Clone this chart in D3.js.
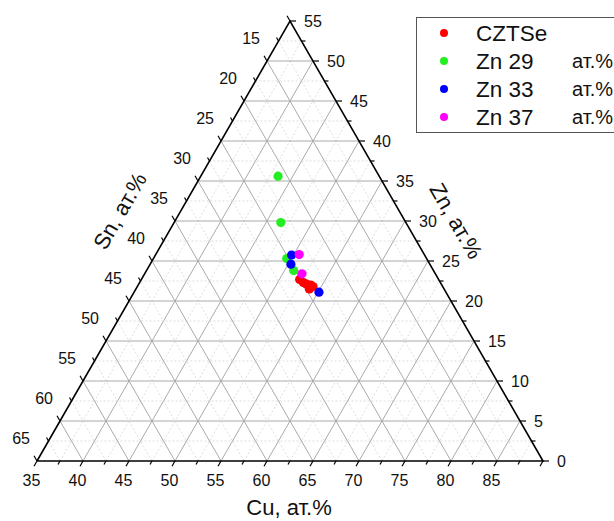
<!DOCTYPE html>
<html><head><meta charset="utf-8">
<script src="https://cdn.jsdelivr.net/npm/d3@7"></script>
<style>body{margin:0;background:#fff;overflow:hidden}svg{display:block;font-family:"Liberation Sans",Arial,sans-serif}</style>
</head><body>
<svg id="c" width="614" height="521"></svg>
<script>
// ---- data (Cu, Zn in at.%; Sn = 100 - Cu - Zn) ----
const seriesNames = ["CZTSe", "Zn 29", "Zn 33", "Zn 37"];
const seriesUnits = ["", "ат.%", "ат.%", "ат.%"];
const seriesColors = ["#ff0000", "#22ee22", "#0000ff", "#ff00ff"];
const cztseCu = [52.2, 52.8, 53.25, 53.75, 53.85, 54.1];
const cztseZn = [22.7, 22.3, 22.1, 22.0, 21.5, 21.8];
const zn29Cu = [43.4, 46.6, 49.5, 51.0];
const zn29Zn = [35.6, 29.8, 25.3, 23.8];
const zn33Cu = [49.8, 50.3, 55.1];
const zn33Zn = [25.75, 24.6, 21.1];
const zn37Cu = [50.6, 52.1];
const zn37Zn = [25.8, 23.4];
const cuTicks = [35, 40, 45, 50, 55, 60, 65, 70, 75, 80, 85];
const znTicks = [0, 5, 10, 15, 20, 25, 30, 35, 40, 45, 50, 55];
const snTicks = [15, 20, 25, 30, 35, 40, 45, 50, 55, 60, 65];
const axisTitles = ["Cu, ат.%", "Zn, ат.%", "Sn, ат.%"];

const svg = d3.select("#c");
const Lc = [37, 461], Rc = [543, 461], Ac = [290, 21];
const cuS = d3.scaleLinear().domain([35, 90]).range([0, 1]);
const znS = d3.scaleLinear().domain([0, 55]).range([0, 1]);
const snS = d3.scaleLinear().domain([10, 65]).range([0, 1]);
function proj(cu, zn) {
  const sn = 100 - cu - zn;
  const a = cuS(cu), b = znS(zn), c = snS(sn);
  return [c * Lc[0] + a * Rc[0] + b * Ac[0], c * Lc[1] + a * Rc[1] + b * Ac[1]];
}
const minorVals = d3.range(2.5, 55, 2.5);
const g = svg.append("g");
// grid
minorVals.forEach(v => {
  const major = Math.abs(v % 5) < 1e-6;
  const st = major ? {c: "#a0a0a0", w: 0.9, d: null} : {c: "#d4d4d4", w: 0.8, d: "2,2"};
  const lines = [];
  lines.push([proj(35, v), proj(90 - v, v)]);
  const u = 35 + v;
  lines.push([proj(u, 0), proj(u, 90 - u)]);
  const s = 10 + v;
  lines.push([proj(100 - s, 0), proj(35, 65 - s)]);
  lines.forEach(p => {
    g.append("line").attr("x1", p[0][0]).attr("y1", p[0][1]).attr("x2", p[1][0]).attr("y2", p[1][1])
      .attr("stroke", st.c).attr("stroke-width", st.w).attr("stroke-dasharray", st.d);
  });
});
// triangle axes
g.append("path").attr("d", d3.line()([Lc, Rc, Ac, Lc])).attr("fill", "none").attr("stroke", "#000").attr("stroke-width", 1.6);
// ticks
const tickVals = d3.range(0, 55.01, 2.5);
tickVals.forEach(v => {
  const major = Math.abs(v % 5) < 1e-6;
  const len = major ? 6 : 4;
  let p = proj(35 + v, 0);
  g.append("line").attr("x1", p[0]).attr("y1", p[1]).attr("x2", p[0] - 0.5 * len).attr("y2", p[1] + 0.866 * len).attr("stroke", "#000").attr("stroke-width", 1.2);
  p = proj(90 - v, v);
  g.append("line").attr("x1", p[0]).attr("y1", p[1]).attr("x2", p[0] + len).attr("y2", p[1]).attr("stroke", "#000").attr("stroke-width", 1.2);
  const s = 10 + v;
  p = proj(35, 65 - s);
  g.append("line").attr("x1", p[0]).attr("y1", p[1]).attr("x2", p[0] - 0.5 * len).attr("y2", p[1] - 0.866 * len).attr("stroke", "#000").attr("stroke-width", 1.2);
});
// tick labels
const tl = svg.append("g").attr("font-size", 16).attr("fill", "#111");
cuTicks.forEach(v => { const p = proj(v, 0);
  tl.append("text").attr("x", p[0] - 5.5).attr("y", p[1] + 19).attr("text-anchor", "middle").attr("dominant-baseline", "central").text(v); });
znTicks.forEach(v => { const p = proj(90 - v, v);
  tl.append("text").attr("x", p[0] + 14).attr("y", p[1]).attr("text-anchor", "start").attr("dominant-baseline", "central").text(v); });
snTicks.forEach(v => { const p = proj(35, 65 - v);
  tl.append("text").attr("x", p[0] - 7).attr("y", p[1] - 22.5).attr("text-anchor", "end").attr("dominant-baseline", "central").text(v); });
// axis titles
const at = svg.append("g").attr("font-size", 22).attr("fill", "#111");
at.append("text").attr("x", 289).attr("y", 515).attr("text-anchor", "middle").text(axisTitles[0]);
at.append("text").attr("transform", "translate(456,221) rotate(60)").attr("text-anchor", "middle").attr("dominant-baseline", "central").text(axisTitles[1]);
at.append("text").attr("transform", "translate(120,211) rotate(-60)").attr("text-anchor", "middle").attr("dominant-baseline", "central").text(axisTitles[2]);
// data
const seriesCu = [cztseCu, zn29Cu, zn33Cu, zn37Cu];
const seriesZn = [cztseZn, zn29Zn, zn33Zn, zn37Zn];
const dg = svg.append("g");
[1, 0, 2, 3].forEach(i => {
  seriesCu[i].forEach((cu, j) => {
    const p = proj(cu, seriesZn[i][j]);
    dg.append("circle").attr("cx", p[0]).attr("cy", p[1]).attr("r", 4.6).attr("fill", seriesColors[i]);
  });
});
// legend
const lg = svg.append("g");
lg.append("rect").attr("x", 416.5).attr("y", 17.5).attr("width", 240).attr("height", 115).attr("fill", "#fff").attr("stroke", "#555").attr("stroke-width", 1);
seriesNames.forEach((n, i) => {
  const y = 33 + i * 28;
  lg.append("circle").attr("cx", 444).attr("cy", y).attr("r", 4).attr("fill", seriesColors[i]);
  lg.append("text").attr("x", 476).attr("y", y).attr("dominant-baseline", "central").attr("font-size", 22.5).attr("fill", "#111").text(n);
  if (seriesUnits[i]) lg.append("text").attr("x", 572).attr("y", y).attr("dominant-baseline", "central").attr("font-size", 20).attr("fill", "#111").text(seriesUnits[i]);
});
</script>
</body></html>
